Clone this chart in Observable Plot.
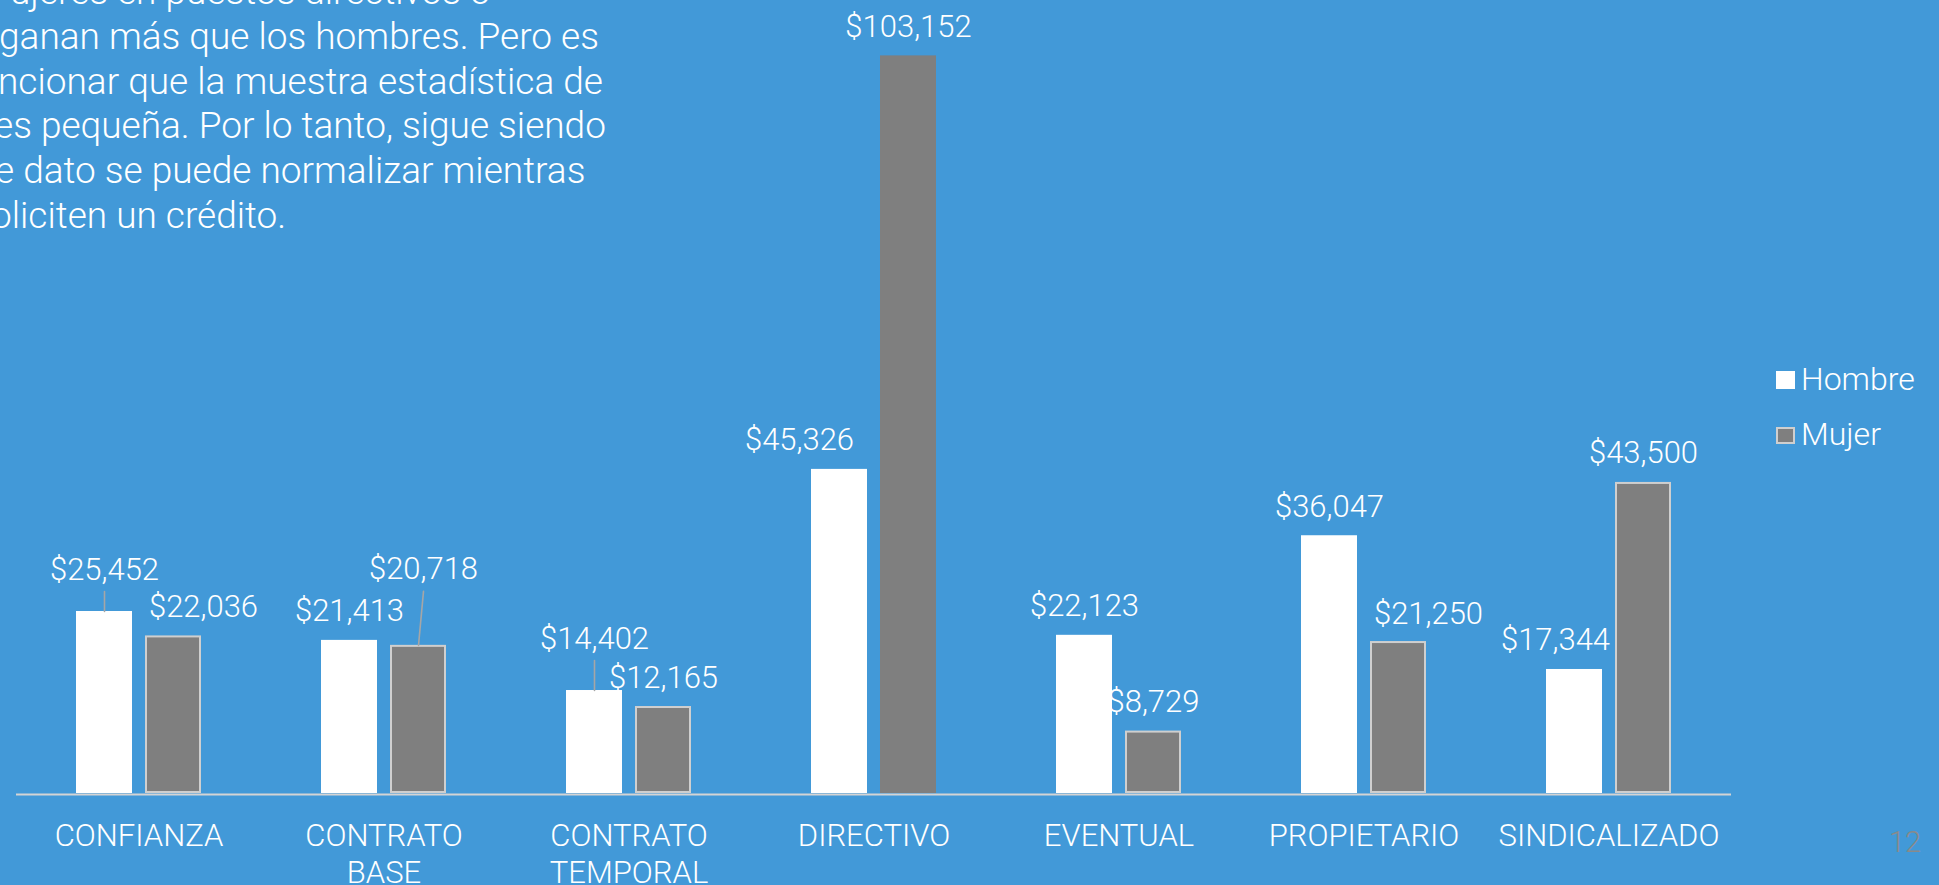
<!DOCTYPE html>
<html>
<head>
<meta charset="utf-8">
<script src="https://cdn.jsdelivr.net/npm/d3@7"></script>
<script src="https://cdn.jsdelivr.net/npm/@observablehq/plot@0.6"></script>
<style>
  html, body { margin: 0; padding: 0; width: 1939px; height: 885px; overflow: hidden; background: #4299d8; }
  body { position: relative; font-family: "Roboto Light", Roboto, "Noto Sans", sans-serif; font-weight: 300; color: #fff; }
  #chart { position: absolute; left: 0; top: 0; }
  #text { position: absolute; left: 0; top: -30px; font-size: 37px; line-height: 44.8px; white-space: nowrap; }
  #text div { position: relative; }
  .legend-item { position: absolute; left: 1776px; }
  .swatch { position: absolute; left: 0; width: 19px; height: 18px; box-sizing: border-box; }
  .legend-label { position: absolute; left: 25px; font-size: 32px; line-height: 32px; white-space: nowrap; }
  #page { position: absolute; left: 1889px; top: 828px; font-size: 29px; line-height: 29px; color: #8a8a8a; }
</style>
</head>
<body>
<div id="text">
  <div style="left:10px">ujeres en puestos directivos o</div>
  <div style="left:-1px">ganan más que los hombres. Pero es</div>
  <div style="left:-2px">ncionar que la muestra estadística de</div>
  <div style="left:-6px">es pequeña. Por lo tanto, sigue siendo</div>
  <div style="left:-5px">e dato se puede normalizar mientras</div>
  <div style="left:-9px">oliciten un crédito.</div>
</div>
<div id="chart"></div>
<div class="legend-item" style="top:371px">
  <div class="swatch" style="background:#ffffff"></div>
  <div class="legend-label" style="top:-8px">Hombre</div>
</div>
<div class="legend-item" style="top:427px">
  <div class="swatch" style="background:#7f7f7f;border:2px solid #cfcfcf;height:17px"></div>
  <div class="legend-label" style="top:-9px">Mujer</div>
</div>
<div id="page">12</div>
<script>
// ---- data ----
const categories = ["CONFIANZA", "CONTRATO\nBASE", "CONTRATO\nTEMPORAL", "DIRECTIVO", "EVENTUAL", "PROPIETARIO", "SINDICALIZADO"];
const series = ["Hombre", "Mujer"];
const hombre = [25452, 21413, 14402, 45326, 22123, 36047, 17344];
const mujer = [22036, 20718, 12165, 103152, 8729, 21250, 43500];

// ---- label nudges (as in the reference, some labels are moved and get a leader line) ----
const labelNudges = [
  {cat: "CONFIANZA", serie: "Hombre", dx: 0, dy: -13, leader: true},
  {cat: "CONFIANZA", serie: "Mujer", dx: 30, dy: 0, leader: false},
  {cat: "CONTRATO\nBASE", serie: "Mujer", dx: 5, dy: -47, leader: true},
  {cat: "CONTRATO\nTEMPORAL", serie: "Hombre", dx: 0, dy: -23, leader: true},
  {cat: "DIRECTIVO", serie: "Hombre", dx: -40, dy: 0, leader: false},
  {cat: "PROPIETARIO", serie: "Mujer", dx: 30, dy: 1, leader: false},
  {cat: "SINDICALIZADO", serie: "Hombre", dx: -19, dy: 0, leader: false}
];
// the tallest Mujer bar has no outline in the reference
const unoutlined = ["DIRECTIVO"];

const rows = [];
categories.forEach((c, i) => {
  rows.push({cat: c, serie: series[0], value: hombre[i]});
  rows.push({cat: c, serie: series[1], value: mujer[i]});
});
const nudgeOf = d => labelNudges.find(n => n.cat === d.cat && n.serie === d.serie) || {dx: 0, dy: 0, leader: false};
const fmt = d3.format(",");
const FONT = "'Roboto Light', Roboto, sans-serif";
const labelFont = {fill: "white", fontSize: 31, fontWeight: 300, fontFamily: FONT};

const labelMarks = rows.map(d => {
  const n = nudgeOf(d);
  return Plot.text([d], {
    fx: "cat", x: "serie", y: "value",
    text: r => "$" + fmt(r.value),
    lineAnchor: "bottom", textAnchor: "middle",
    dx: n.dx, dy: -19 + n.dy,
    ...labelFont
  });
});

const leaderMarks = rows.filter(d => nudgeOf(d).leader).map(d => {
  const n = nudgeOf(d);
  const up = 7 - n.dy; // distance from bar top to line end
  return Plot.vector([d], {
    fx: "cat", x: "serie", y: "value",
    anchor: "start",
    length: Math.hypot(n.dx, up),
    rotate: Math.atan2(n.dx, up) * 180 / Math.PI,
    r: 0,
    stroke: "#a6a6a6", strokeWidth: 1.6
  });
});

const mujerRows = rows.filter(d => d.serie === "Mujer");

const chart = Plot.plot({
  width: 1939,
  height: 885,
  marginLeft: 14,
  marginRight: 206,
  marginTop: 55.4,
  marginBottom: 92,
  style: {background: "transparent", color: "white", fontFamily: FONT, fontWeight: 300},
  fx: {domain: categories, padding: 0, label: null},
  x: {domain: series, paddingInner: 0.186, paddingOuter: 0.847, axis: null},
  y: {domain: [0, 103152], axis: null},
  marks: [
    Plot.barY(rows.filter(d => d.serie === "Hombre"), {fx: "cat", x: "serie", y: "value", fill: "#ffffff"}),
    Plot.barY(mujerRows.filter(d => !unoutlined.includes(d.cat)), {fx: "cat", x: "serie", y: "value", fill: "#7f7f7f", stroke: "#cfcfcf", strokeWidth: 2, inset: 1}),
    Plot.barY(mujerRows.filter(d => unoutlined.includes(d.cat)), {fx: "cat", x: "serie", y: "value", fill: "#7f7f7f"}),
    Plot.ruleY([0], {stroke: "#d4d4d4", strokeWidth: 2, dy: 1}),
    ...leaderMarks,
    ...labelMarks,
    Plot.axisFx({anchor: "bottom", tickSize: 0, tickPadding: 26, fontSize: 31, lineHeight: 1.2, fill: "white", fontFamily: FONT, label: null})
  ]
});
document.getElementById("chart").appendChild(chart);
</script>
</body>
</html>
